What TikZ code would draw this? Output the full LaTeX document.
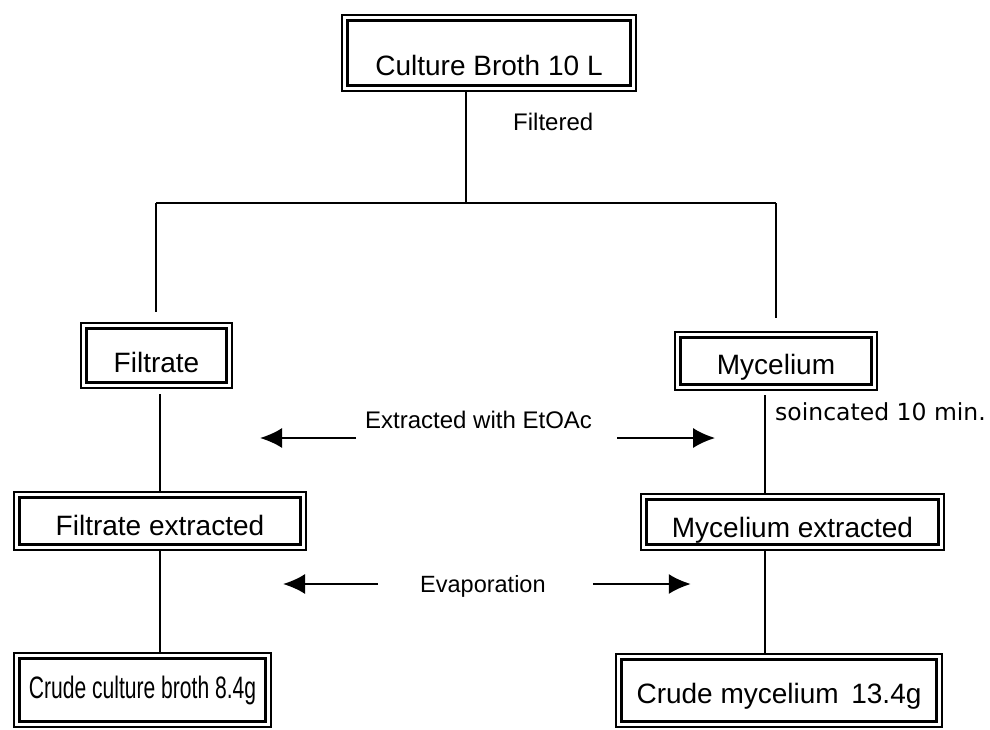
\documentclass[tikz,border=0pt]{standalone}
\usepackage{fontspec}
\setmainfont{Liberation Sans}
\newfontfamily\widefont{DejaVu Sans}
\usetikzlibrary{arrows.meta}

\begin{document}
\begin{tikzpicture}[x=1pt,y=-1pt,
  box/.style={draw, line width=2.4pt, double, double distance=3pt, inner sep=0pt, outer sep=3.9pt, anchor=base, font=\fontsize{28}{30}\selectfont},
  link/.style={line width=2.2pt},
  flow/.style={line width=2.2pt, -{Latex[length=22pt,width=20pt]}},
  note/.style={inner sep=0pt, anchor=base west}]
\useasboundingbox (0,0) rectangle (990,729);

%Boxes
\node[box, minimum width=288.2pt, text height=57.1pt, text depth=13.1pt] (broth) at (489,75) {Culture Broth 10 L};
\node[box, minimum width=145.2pt, text height=46.1pt, text depth=13.1pt] (filtrate) at (156.5,372) {Filtrate};
\node[box, minimum width=196.2pt, text height=39.1pt, text depth=13.1pt] (mycelium) at (776,374) {Mycelium};
\node[box, minimum width=286.2pt, text height=40.1pt, text depth=12.1pt] (filtext) at (160,535) {Filtrate extracted};
\node[box, minimum width=297.2pt, text height=40.1pt, text depth=10.1pt] (mycext) at (792.5,537) {Mycelium extracted};
\node[box, minimum width=251.2pt, text height=42.1pt, text depth=26.1pt] (crudebroth) at (142.5,698) {\scalebox{0.68}[1]{\fontsize{31}{33}\selectfont Crude culture broth 8.4g}};
\node[box, minimum width=320.2pt, text height=46.1pt, text depth=21.1pt] (crudemyc) at (779,703) {Crude mycelium\hspace{0.45em}13.4g};

% Text Node
\node[note, font=\fontsize{24}{26}\selectfont] (filtered) at (513,130) {Filtered};
% Text Node
\node[note, font=\fontsize{24}{26}\selectfont] (extract) at (365,428) {Extracted with EtOAc};
% Text Node
\node[note, font=\widefont\fontsize{23.5}{26}\selectfont] (sonic) at (775,420) {soincated 10 min.};
% Text Node
\node[note, font=\fontsize{23.5}{26}\selectfont] (evap) at (420,592) {Evaporation};

%Tree lines
\coordinate (split) at (466,203);
\coordinate (lturn) at (156,203);
\coordinate (rturn) at (776,203);
\coordinate (raxis) at (765,450);
\draw[link] (broth.south -| split) -- (split);
\draw[link] (lturn) -- (rturn);
\draw[link, shorten >=10pt] (lturn) -- (filtrate.north -| lturn);
\draw[link, shorten >=13pt] (rturn) -- (mycelium.north -| rturn);
\draw[link, shorten <=5pt] (filtrate.south -| filtext.north) -- (filtext.north);
\draw[link] (filtext.south) -- (crudebroth.north -| filtext.south);
\draw[link, shorten <=4pt] (mycelium.south -| raxis) -- (mycext.north -| raxis);
\draw[link] (mycext.south -| raxis) -- (crudemyc.north -| raxis);

%Arrows
\draw[flow] ([shift={(-9,10)}]extract.base west) -- ++(-96,0);
\draw[flow] ([shift={(25,10)}]extract.base east) -- ++(98,0);
\draw[flow] ([shift={(-42,-8)}]evap.base west) -- ++(-95,0);
\draw[flow] ([shift={(47,-8)}]evap.base east) -- ++(98,0);

\end{tikzpicture}
\end{document}
